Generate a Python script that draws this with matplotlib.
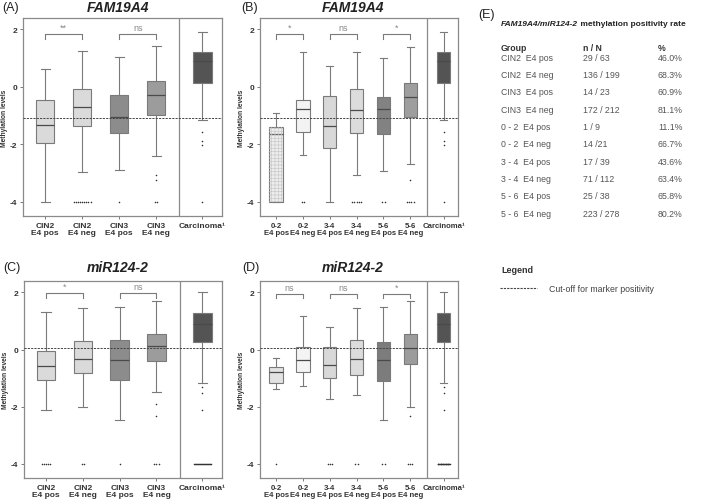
import numpy as np
import matplotlib.pyplot as plt
from matplotlib.patches import Rectangle
from matplotlib.lines import Line2D

plt.rcParams['font.family'] = ['Liberation Sans', 'DejaVu Sans']
plt.rcParams['axes.unicode_minus'] = False
plt.rcParams['hatch.linewidth'] = 0.4

# ---- values ----
cin_labels = ["CIN2\nE4 pos", "CIN2\nE4 neg", "CIN3\nE4 pos", "CIN3\nE4 neg", "Carcinoma¹"]
score_labels = ["0-2\nE4 pos", "0-2\nE4 neg", "3-4\nE4 pos", "3-4\nE4 neg",
                "5-6\nE4 pos", "5-6\nE4 neg", "Carcinoma¹"]

# (A) FAM19A4 by CIN grade
a_lo = [-4.00, -2.98, -2.91, -2.40, -1.15]
a_q1 = [-1.95, -1.37, -1.61, -0.99, 0.13]
a_med = [-1.32, -0.71, -1.04, -0.30, 0.90]
a_q3 = [-0.46, -0.07, -0.27, 0.21, 1.21]
a_hi = [0.64, 1.24, 1.04, 1.42, 1.91]
a_out = [[], [-4] * 9, [-4], [-3.07, -3.25] + [-4] * 2, [-1.57, -1.87, -2.03, -4]]

# (B) FAM19A4 by risk score
b_lo = [-4.00, -2.38, -4.00, -3.08, -2.93, -2.69, -1.15]
b_q1 = [-4.00, -1.59, -2.13, -1.62, -1.64, -1.06, 0.13]
b_med = [-1.63, -0.77, -1.36, -0.79, -0.77, -0.36, 0.90]
b_q3 = [-1.40, -0.47, -0.33, -0.06, -0.35, 0.14, 1.21]
b_hi = [-0.92, 1.21, 0.72, 1.22, 1.02, 1.38, 1.91]
b_out = [[], [-4] * 2, [], [-4] * 5, [-4] * 2, [-3.26] + [-4] * 4, [-1.57, -1.87, -2.03, -4]]

# (C) miR124-2 by CIN grade
c_lo = [-2.13, -2.01, -2.47, -1.49, -1.17]
c_q1 = [-1.06, -0.81, -1.06, -0.41, 0.27]
c_med = [-0.57, -0.34, -0.37, 0.13, 0.90]
c_q3 = [-0.05, 0.29, 0.32, 0.55, 1.27]
c_hi = [1.32, 1.44, 1.50, 1.70, 2.00]
c_out = [[-4] * 5, [-4] * 2, [-4], [-1.91, -2.33] + [-4] * 3, [-1.33, -1.51, -2.12] + [-4] * 18]

# (D) miR124-2 by risk score
d_lo = [-1.39, -1.27, -1.75, -1.61, -2.47, -2.01, -1.17]
d_q1 = [-1.18, -0.77, -0.99, -0.89, -1.11, -0.51, 0.27]
d_med = [-0.78, -0.35, -0.53, -0.34, -0.36, 0.04, 0.90]
d_q3 = [-0.60, 0.09, 0.08, 0.32, 0.26, 0.53, 1.27]
d_hi = [-0.29, 1.18, 0.80, 1.44, 1.49, 1.70, 2.00]
d_out = [[-4], [], [-4] * 3, [-4] * 2, [-4] * 2, [-2.33] + [-4] * 3, [-1.33, -1.51, -2.12] + [-4] * 18]

fam_cutoff = -1.10
mir_cutoff = 0.04

a_sig = [(0, 1, "**"), (2, 3, "ns")]
b_sig = [(0, 1, "*"), (2, 3, "ns"), (4, 5, "*")]
c_sig = [(0, 1, "*"), (2, 3, "ns")]
d_sig = [(0, 1, "ns"), (2, 3, "ns"), (4, 5, "*")]

# (E) table
tab_groups = ["CIN2  E4 pos", "CIN2  E4 neg", "CIN3  E4 pos", "CIN3  E4 neg",
              "0 - 2  E4 pos", "0 - 2  E4 neg", "3 - 4  E4 pos", "3 - 4  E4 neg",
              "5 - 6  E4 pos", "5 - 6  E4 neg"]
tab_nN = ["29 / 63", "136 / 199", "14 / 23", "172 / 212", "1 / 9", "14 /21",
          "17 / 39", "71 / 112", "25 / 38", "223 / 278"]
tab_pct = ["46.0%", "68.3%", "60.9%", "81.1%", "11.1%", "66.7%",
           "43.6%", "63.4%", "65.8%", "80.2%"]

# box styling
cin_colors = ["#dadada", "#dadada", "#8c8c8c", "#9c9c9c", "#545454"]
b_colors = ["#ededed", "#f3f3f3", "#d8d8d8", "#dcdcdc", "#828282", "#9e9e9e", "#545454"]
d_colors = ["#e2e2e2", "#f4f4f4", "#d8d8d8", "#dcdcdc", "#7c7c7c", "#9c9c9c", "#545454"]

W, H = 709, 502
fig = plt.figure(figsize=(W / 100, H / 100), dpi=100)
GRAY = "#7a7a7a"


def px_axes(left, top, right, bottom):
    return fig.add_axes([left / W, 1 - bottom / H, (right - left) / W, (bottom - top) / H])


def draw_panel(ax, labels, lo, q1, med, q3, hi, outs, colors, cutoff, sig,
               sig_y, hatched=(), tick_fs=6):
    n = len(labels) - 1
    pos = list(np.arange(1, n + 1)) + [n + 1.25]
    stats = [dict(whislo=lo[i], q1=q1[i], med=med[i], q3=q3[i], whishi=hi[i], fliers=[])
             for i in range(len(labels))]
    bp = ax.bxp(stats, positions=pos, widths=0.5, capwidths=0.25, patch_artist=True,
                showfliers=False,
                boxprops=dict(edgecolor=GRAY, linewidth=0.8),
                whiskerprops=dict(color=GRAY, linewidth=0.8),
                capprops=dict(color=GRAY, linewidth=0.8),
                medianprops=dict(color="#4a4a4a", linewidth=0.9))
    for patch, c in zip(bp["boxes"], colors):
        patch.set_facecolor(c)
    for i in hatched:
        ax.add_patch(Rectangle((pos[i] - 0.25, q1[i]), 0.5, q3[i] - q1[i], facecolor="none",
                               edgecolor="#c4c4c4", hatch="+++++", lw=0, zorder=2.5))
    xlim = (0.4, n + 1.78)
    ax.set_xlim(*xlim)
    ax.set_ylim(-4.5, 2.4)
    # outliers: tied values spread sideways like the original
    ax_px = ax.get_position().width * W
    unit = (xlim[1] - xlim[0]) / ax_px
    for p, vals in zip(pos, outs):
        vals = np.array(vals, dtype=float)
        for v in np.unique(vals):
            k = int((vals == v).sum())
            step = min(2.2 * unit, 0.45 / max(k - 1, 1))
            xs = p + (np.arange(k) - (k - 1) / 2) * step
            ax.scatter(xs, [v] * k, s=1.3, color="#333333", linewidths=0, zorder=4)
    ax.axvline(n + 0.63, color="#8a8a8a", lw=0.9)
    ax.axhline(cutoff, color="#444444", lw=0.7, ls=(0, (2.2, 1.2)), zorder=3)
    for i, j, txt in sig:
        ax.plot([pos[i], pos[i], pos[j], pos[j]],
                [sig_y - 0.16, sig_y, sig_y, sig_y - 0.16], color=GRAY, lw=0.8)
        ax.text((pos[i] + pos[j]) / 2, sig_y + 0.08, txt, ha="center", va="bottom",
                fontsize=6.5, color="#888888")
    ax.set_xticks(pos)
    ax.set_xticklabels(labels, fontsize=tick_fs, fontweight="bold", linespacing=1.1,
                       color="#333333")
    ax.set_yticks([-4, -2, 0, 2])
    ax.set_yticklabels(["-4", "-2", "0", "2"], fontsize=6, fontweight="bold",
                       color="#333333")
    ax.tick_params(axis="both", length=2.5, width=0.7, color=GRAY, pad=1.5)
    ax.set_ylabel("Methylation levels", fontsize=4.8, fontweight="bold", labelpad=1.5,
                  color="#333333")
    for s in ax.spines.values():
        s.set_color("#8a8a8a")
        s.set_linewidth(0.9)


axA = px_axes(23, 19, 222, 217)
axB = px_axes(260, 19, 458, 217)
axC = px_axes(24, 282, 222, 479)
axD = px_axes(260, 282, 458, 479)

draw_panel(axA, cin_labels, a_lo, a_q1, a_med, a_q3, a_hi, a_out, cin_colors,
           fam_cutoff, a_sig, 1.83)
draw_panel(axB, score_labels, b_lo, b_q1, b_med, b_q3, b_hi, b_out, b_colors,
           fam_cutoff, b_sig, 1.83, hatched=(0,), tick_fs=5.6)
draw_panel(axC, cin_labels, c_lo, c_q1, c_med, c_q3, c_hi, c_out, cin_colors,
           mir_cutoff, c_sig, 1.98)
draw_panel(axD, score_labels, d_lo, d_q1, d_med, d_q3, d_hi, d_out, d_colors,
           mir_cutoff, d_sig, 1.95, tick_fs=5.6)

# panel letters and gene titles
for x, y, t in [(2, 8, "(A)"), (241, 8, "(B)"), (3, 268, "(C)"), (242, 268, "(D)"), (478, 15, "(E)")]:
    fig.text(x / W, 1 - y / H, t, fontsize=9, ha="left", va="center", color="#222222")
for x, y, t in [(118, 8, "FAM19A4"), (353, 8, "FAM19A4"), (118, 268, "miR124-2"), (353, 268, "miR124-2")]:
    fig.text(x / W, 1 - y / H, t, fontsize=10, fontweight="bold", style="italic",
             ha="center", va="center", color="#222222")

# (E) positivity table
head = fig.text(501 / W, 1 - 25 / H, "FAM19A4/miR124-2", fontsize=6, fontweight="bold",
                style="italic", ha="left", va="center", color="#222222")
axD.annotate(" methylation positivity rate", xy=(1, 0.5), xycoords=head, fontsize=6,
             fontweight="bold", ha="left", va="center", color="#222222",
             annotation_clip=False)
col_x = [501, 583, 658]
for x, t in zip(col_x, ["Group", "n / N", "%"]):
    fig.text(x / W, 1 - 48.3 / H, t, fontsize=6.3, fontweight="bold", ha="left",
             va="center", color="#333333")
for i in range(len(tab_groups)):
    y = 1 - (58.3 + 17.33 * i) / H
    for x, t in zip(col_x, [tab_groups[i], tab_nN[i], tab_pct[i]]):
        fig.text(x / W, y, t, fontsize=6.3, ha="left", va="center", color="#555555")

# legend block
fig.text(501 / W, 1 - 271 / H, "Legend", fontsize=6.5, fontweight="bold", ha="left",
         va="center", color="#333333")
fig.add_artist(Line2D([500 / W, 537 / W], [1 - 289.3 / H] * 2, color="#444444", lw=0.8,
                      ls=(0, (2, 1))))
fig.text(549 / W, 1 - 289.3 / H, "Cut-off for marker positivity", fontsize=6.3,
         ha="left", va="center", color="#444444")

fig.savefig("out.png", dpi=100)
